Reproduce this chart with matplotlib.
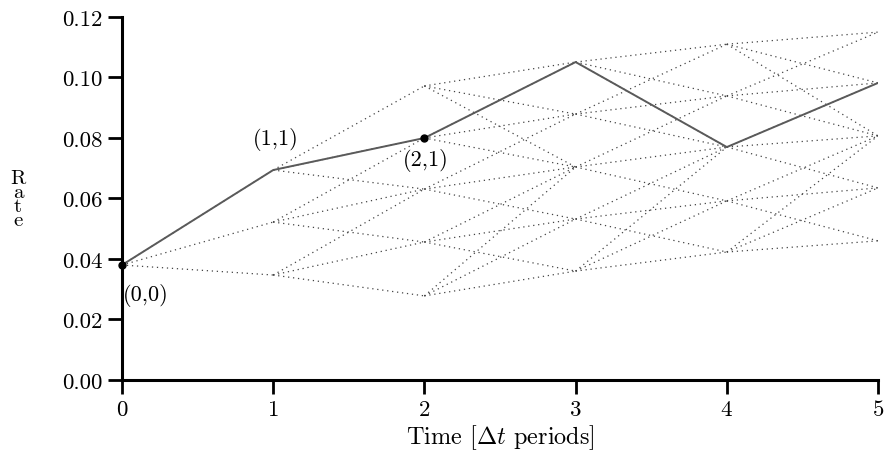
import matplotlib
matplotlib.use("Agg")
import matplotlib.pyplot as plt
from matplotlib.ticker import FormatStrFormatter

plt.rcParams['font.family'] = 'cmr10'
plt.rcParams['mathtext.fontset'] = 'cm'
plt.rcParams['axes.formatter.use_mathtext'] = True

# short-rate tree nodes, lowest to highest, for each time step
times = [0, 1, 2, 3, 4, 5]
rates = [
    [0.0380],
    [0.0347, 0.0522, 0.0694],
    [0.0278, 0.0456, 0.0631, 0.0800, 0.0972],
    [0.0360, 0.0532, 0.0704, 0.0879, 0.1051],
    [0.0423, 0.0592, 0.0770, 0.0939, 0.1110],
    [0.0460, 0.0635, 0.0807, 0.0982, 0.1150],
]
# highlighted path, node index (j, centred on 0) at each time
path_j = [0, 1, 1, 2, 0, 1]
marked = [(0, 0), (2, 1)]          # (time, j) nodes with a dot
labels = ["(0,0)", "(1,1)", "(2,1)"]
label_pos = [(0.16, 0.0284), (1.02, 0.0797), (2.01, 0.0730)]

yticks = [0.00, 0.02, 0.04, 0.06, 0.08, 0.10, 0.12]


def rate_at(t, j):
    col = rates[t]
    return col[j + len(col) // 2]


fig = plt.figure(figsize=(8.87, 4.77), dpi=100)
ax = fig.add_axes([0.1375, 0.2013, 0.8524, 0.761])

# dotted branches of the trinomial tree
for t in range(len(times) - 1):
    k = len(rates[t]) // 2
    kn = len(rates[t + 1]) // 2
    for j in range(-k, k + 1):
        if kn > k or abs(j) < kn:
            targets = [j - 1, j, j + 1]
        elif j == kn:
            targets = [j, j - 1, j - 2]
        else:
            targets = [j, j + 1, j + 2]
        for jj in targets:
            ax.plot([times[t], times[t + 1]],
                    [rate_at(t, j), rate_at(t + 1, jj)],
                    color='#444444', lw=0.9, linestyle=(0, (1, 3)),
                    zorder=2)

# one sample path through the tree
path_r = [rate_at(t, j) for t, j in zip(times, path_j)]
ax.plot(times, path_r, color='#5a5a5a', lw=1.4, zorder=3)

for t, j in marked:
    ax.plot(times[t], rate_at(t, j), 'o', color='black', ms=5,
            clip_on=False, zorder=4)

for txt, (x, y) in zip(labels, label_pos):
    ax.text(x, y, txt, ha='center', va='center', fontsize=16)

ax.set_xlim(0, 5)
ax.set_ylim(0, 0.12)
ax.set_xticks(times)
ax.set_yticks(yticks)
ax.yaxis.set_major_formatter(FormatStrFormatter('%.2f'))

for side in ['top', 'right']:
    ax.spines[side].set_visible(False)
for side in ['left', 'bottom']:
    ax.spines[side].set_linewidth(2.2)
ax.tick_params(direction='out', length=10, width=2, labelsize=16.5, pad=4)

ax.set_xlabel(r'Time [$\Delta t$ periods]', fontsize=17.5, labelpad=2)
fig.text(0.0203, 0.581, "R\na\nt\ne", ha='center', va='center',
         fontsize=15, linespacing=0.72)

fig.savefig("out.png", dpi=100)
